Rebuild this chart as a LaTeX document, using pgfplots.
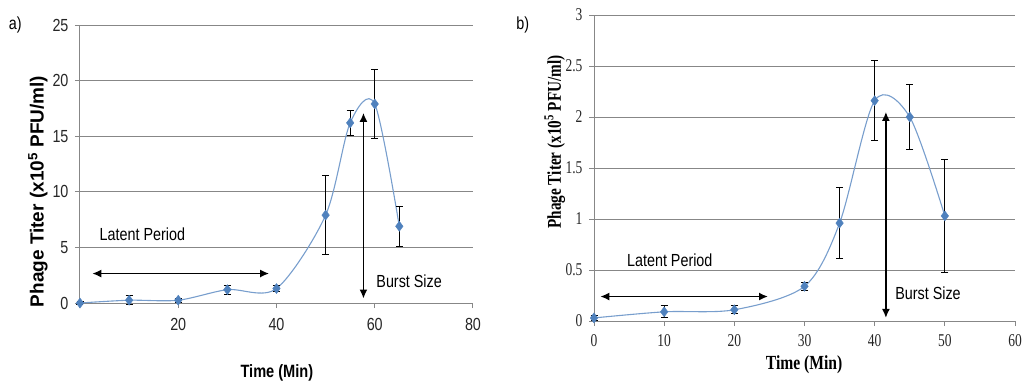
\documentclass[border=0pt]{standalone}
\usepackage{fontspec}
\usepackage{pgfplots}
\usepackage{pgfplotstable}
\pgfplotsset{compat=1.18}
\usetikzlibrary{arrows.meta}
\setmainfont{Liberation Sans}
\newfontfamily\anarrow[FakeStretch=0.82]{Liberation Sans}
\newfontfamily\tnr[FakeStretch=0.75]{Liberation Serif}
\newfontfamily\tnrlab[FakeStretch=0.78]{Liberation Serif}
\definecolor{mblue}{RGB}{79,129,189}
\definecolor{lblue}{RGB}{120,158,205}
\definecolor{gridc}{RGB}{135,135,135}

\pgfplotstableread{
x y e
0 0 0.1
10 0.25 0.4
20 0.25 0.2
30 1.2 0.4
40 1.3 0.3
50 7.9 3.55
55 16.2 1.1
60 17.9 3.1
65 6.9 1.8
}\dataA

\pgfplotstableread{
x y e
0 0.03 0.02
10 0.09 0.06
20 0.11 0.04
30 0.34 0.04
35 0.96 0.35
40 2.16 0.39
45 2.0 0.32
50 1.03 0.55
}\dataB

\pgfplotsset{
  common/.style={
    scale only axis, anchor=south west, clip=false,
    axis x line=bottom, axis y line=left,
    axis line style={-, gridc, line width=1pt},
    ymajorgrids, grid style={gridc, line width=1pt},
    tick align=outside, major tick length=5pt,
    tick style={gridc, line width=1pt},
    /pgf/number format/assume math mode=true,
  },
  ebars/.style={
    only marks, mark=diamond*, mark size=5pt,
    mark options={fill=mblue, draw=mblue},
    error bars/.cd, y dir=both, y explicit,
    error bar style={black, line width=0.9pt},
    error mark options={rotate=90, black, mark size=3.5pt, line width=0.9pt},
  },
}

\begin{document}
\begin{tikzpicture}
\path[use as bounding box] (0,0) rectangle (1026pt,384pt);

% ---------------- panel a ----------------
\begin{axis}[common,
  at={(80pt,81pt)}, width=393pt, height=278pt,
  xmin=0, xmax=80, ymin=0, ymax=25,
  xtick={0,20,40,60,80}, xticklabels={,20,40,60,80},
  ytick={0,5,10,15,20,25},
  ticklabel style={font=\anarrow\fontsize{17.5}{18}\selectfont, text=black!85},
  xticklabel style={yshift=-7pt},
  yticklabel style={xshift=-3pt},
  xlabel={\textbf{Time (Min)}},
  xlabel style={at={(axis description cs:0.501,-0.252)}, anchor=center,
    font=\anarrow\fontsize{17.8}{18}\selectfont},
  ylabel={\textbf{Phage Titer (x10\textsuperscript{5} PFU/ml)}},
  ylabel style={at={(axis description cs:-0.107,0.401)}, anchor=center, rotate=0,
    font=\fontsize{19}{20}\selectfont},
]
\addplot[lblue, line width=1.1pt, smooth, no marks] table[x=x,y=y] {\dataA};
\addplot[ebars] table[x=x,y=y,y error=e] {\dataA};
\draw[line width=1.6pt, {Latex[length=9pt,width=8pt]}-{Latex[length=9pt,width=8pt]}]
  (axis cs:2.5,2.65) -- (axis cs:38.5,2.65);
\draw[line width=1.6pt, {Latex[length=9pt,width=8pt]}-{Latex[length=9pt,width=8pt]}]
  (axis cs:57.7,17.1) -- (axis cs:57.7,0.4);
\node[font=\anarrow\fontsize{17.5}{18}\selectfont] at (axis cs:12.7,6.2) {Latent Period};
\node[font=\anarrow\fontsize{17.5}{18}\selectfont] at (axis cs:67.0,2.0) {Burst Size};
\node[font=\anarrow\fontsize{17.5}{18}\selectfont] at (axis description cs:-0.165,1.0) {a)};
\end{axis}

% ---------------- panel b ----------------
\begin{axis}[common,
  at={(594pt,63pt)}, width=421pt, height=306pt,
  xmin=0, xmax=60, ymin=0, ymax=3,
  xtick={0,10,20,30,40,50,60},
  ytick={0,0.5,1,1.5,2,2.5,3},
  yticklabels={0,0.5,1,1.5,2,2.5,3},
  ticklabel style={font=\tnr\fontsize{18}{18}\selectfont, text=black!85},
  xticklabel style={yshift=-5pt},
  yticklabel style={xshift=-3pt},
  xlabel={\textbf{Time (Min)}},
  xlabel style={at={(axis description cs:0.499,-0.142)}, anchor=center,
    font=\tnrlab\fontsize{20}{20}\selectfont},
  ylabel={\textbf{Phage Titer (x10\textsuperscript{5} PFU/ml)}},
  ylabel style={at={(axis description cs:-0.093,0.585)}, anchor=center,
    font=\tnrlab\fontsize{19.5}{20}\selectfont},
]
\addplot[lblue, line width=1.1pt, smooth, no marks] table[x=x,y=y] {\dataB};
\addplot[ebars] table[x=x,y=y,y error=e] {\dataB};
\draw[line width=1.6pt, {Latex[length=9pt,width=8pt]}-{Latex[length=9pt,width=8pt]}]
  (axis cs:0.9,0.24) -- (axis cs:24.8,0.24);
\draw[line width=1.6pt, {Latex[length=9pt,width=8pt]}-{Latex[length=9pt,width=8pt]}]
  (axis cs:41.6,2.05) -- (axis cs:41.6,0.03);
\node[font=\anarrow\fontsize{17.5}{18}\selectfont] at (axis cs:10.8,0.6) {Latent Period};
\node[font=\anarrow\fontsize{17.5}{18}\selectfont] at (axis cs:47.6,0.27) {Burst Size};
\node[font=\anarrow\fontsize{17.5}{18}\selectfont] at (axis description cs:-0.169,0.967) {b)};
\end{axis}
\end{tikzpicture}
\end{document}
